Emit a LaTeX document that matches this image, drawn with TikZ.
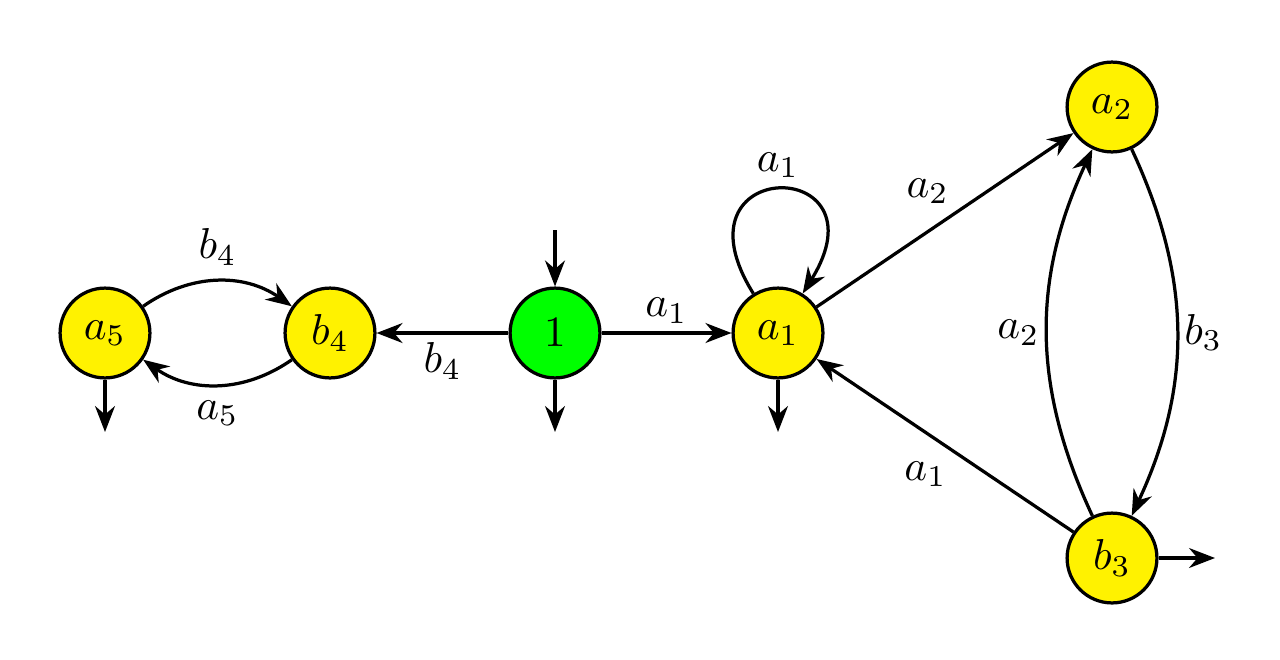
\documentclass[tikz,border=0pt]{standalone}
\usetikzlibrary{arrows.meta}
\begin{document}
\begin{tikzpicture}[x=0.8125cm,y=0.8125cm,
  vtx/.style={circle,draw,line width=0.75pt,fill=yellow,minimum size=0.73cm,inner sep=0pt},
  start/.style={vtx,fill=green},
  arr/.style={line width=0.75pt,-{Stealth[length=6pt,width=4.6pt]}}]
\useasboundingbox (0,0) rectangle (12.8,6.59);

\node[vtx] (a5) at (1.05,3.26) {$a_5$};
\node[vtx] (b4) at (3.30,3.26) {$b_4$};
\node[start] (one) at (5.55,3.26) {$1$};
\node[vtx] (a1) at (7.78,3.26) {$a_1$};
\node[vtx] (a2) at (11.12,5.52) {$a_2$};
\node[vtx] (b3) at (11.12,1.01) {$b_3$};

% free ends of the entry and exit arrows
\coordinate (in1) at (5.55,4.29);
\coordinate (out5) at (1.05,2.27);
\coordinate (out1) at (5.55,2.27);
\coordinate (outa1) at (7.78,2.27);
\coordinate (outb3) at (12.15,1.01);

\draw[arr] (in1) -- (one);
\draw[arr] (a5) -- (out5);
\draw[arr] (one) -- (out1);
\draw[arr] (a1) -- (outa1);
\draw[arr] (b3) -- (outb3);

\draw[arr] (one) -- node[below=-1.5pt] {$b_4$} (b4);
\draw[arr] (one) -- node[above=-1.5pt] {$a_1$} (a1);
\draw[arr] (a5) to[bend left=35] node[above] {$b_4$} (b4);
\draw[arr] (b4) to[bend left=35] node[below] {$a_5$} (a5);
\draw[arr] (a1) to[out=122,in=58,looseness=8.5] node[above=-1pt] {$a_1$} (a1);
\draw[arr] (a1) -- node[above,xshift=-4pt] {$a_2$} (a2);
\draw[arr] (b3) -- node[below,xshift=-4.5pt] {$a_1$} (a1);
\draw[arr] (a2) to[bend left=25] node[right=-2pt] {$b_3$} (b3);
\draw[arr] (b3) to[bend left=25] node[left=-2pt] {$a_2$} (a2);

\end{tikzpicture}
\end{document}
